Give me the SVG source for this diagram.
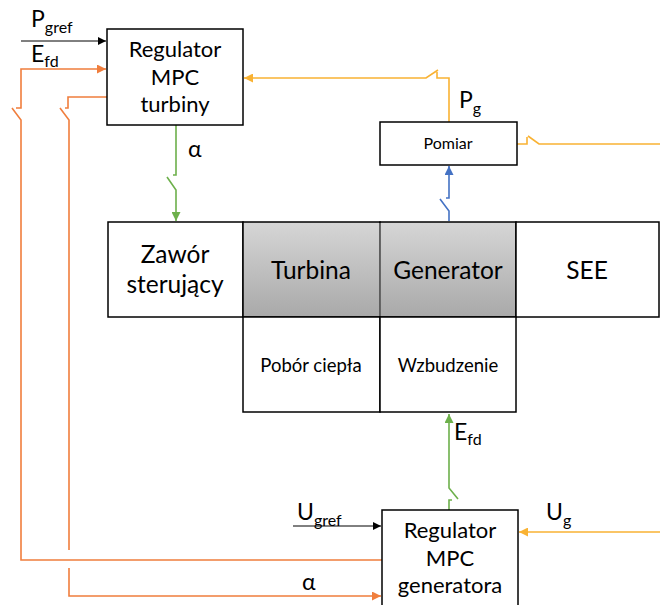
<svg xmlns="http://www.w3.org/2000/svg" width="660" height="605" viewBox="0 0 660 605">
<defs>
<style>
text{font-family:Lato,"Open Sans","Liberation Sans",sans-serif;fill:#000}
.box{fill:#fff;stroke:#000;stroke-width:1.5}
.big{font-size:22px;text-anchor:middle}
.row{font-size:24.5px;text-anchor:middle}
.mid{font-size:18.5px;text-anchor:middle}
.sm{font-size:16px;text-anchor:middle}
.lbl{font-size:23px}
.sub{font-size:16px}
.w{fill:none;stroke-width:1.6}
.or{stroke:#F07E3D}
.ye{stroke:#F9B233}
.gr{stroke:#6DB04B}
.bl{stroke:#4472C4}
.bk{stroke:#000;stroke-width:1}
</style>
<linearGradient id="gg" x1="0" y1="0" x2="0" y2="1">
<stop offset="0" stop-color="#d6d6d6"/>
<stop offset="1" stop-color="#a9a9a9"/>
</linearGradient>
<marker id="aK" viewBox="0 0 10 10" refX="10" refY="5" markerWidth="8" markerHeight="8" markerUnits="userSpaceOnUse" orient="auto"><path d="M0,0L10,5L0,10z" fill="#000"/></marker>
<marker id="aO" viewBox="0 0 10 10" refX="10" refY="5" markerWidth="9" markerHeight="9" markerUnits="userSpaceOnUse" orient="auto"><path d="M0,0L10,5L0,10z" fill="#F07E3D"/></marker>
<marker id="aY" viewBox="0 0 10 10" refX="10" refY="5" markerWidth="9" markerHeight="9" markerUnits="userSpaceOnUse" orient="auto"><path d="M0,0L10,5L0,10z" fill="#F9B233"/></marker>
<marker id="aG" viewBox="0 0 10 10" refX="10" refY="5" markerWidth="9" markerHeight="9" markerUnits="userSpaceOnUse" orient="auto"><path d="M0,0L10,5L0,10z" fill="#6DB04B"/></marker>
<marker id="aB" viewBox="0 0 10 10" refX="10" refY="5" markerWidth="9" markerHeight="9" markerUnits="userSpaceOnUse" orient="auto"><path d="M0,0L10,5L0,10z" fill="#4472C4"/></marker>
</defs>

<g id="connectors">
<path class="w bk" d="M21,41H106" marker-end="url(#aK)"/>
<path class="w or" d="M382,560H21V120L12,108"/>
<path class="w or" d="M16,108H21V69H106" marker-end="url(#aO)"/>
<path class="w or" d="M107,97H68V108H65"/>
<path class="w or" d="M60,108L69,120V550"/>
<path class="w or" d="M69,568V596H381" marker-end="url(#aO)"/>
<path class="w gr" d="M176,125V175H173"/>
<path class="w gr" d="M167,177L176,190V221" marker-end="url(#aG)"/>
<path class="w bl" d="M449,221V211L440,199"/>
<path class="w bl" d="M446,198H449V166" marker-end="url(#aB)"/>
<path class="w gr" d="M449,510V500H452"/>
<path class="w gr" d="M458,499L449,488V414" marker-end="url(#aG)"/>
<path class="w ye" d="M449,122V78H437V72"/>
<path class="w ye" d="M438,70L426,78H244" marker-end="url(#aY)"/>
<path class="w ye" d="M517,144H527V137"/>
<path class="w ye" d="M528,136L539,144H660"/>
<path class="w bk" d="M293,526H381" marker-end="url(#aK)"/>
<path class="w ye" d="M660,532H519" marker-end="url(#aY)"/>
</g>

<g id="reg-turbiny">
<rect class="box" x="107" y="29" width="136" height="96"/>
<text class="big" x="175" y="57">Regulator</text>
<text class="big" x="175" y="85">MPC</text>
<text class="big" x="175" y="112">turbiny</text>
</g>

<g id="pomiar">
<rect class="box" x="380" y="122" width="137" height="43"/>
<text class="sm" x="448" y="149">Pomiar</text>
</g>

<g id="zawor">
<rect class="box" x="108" y="222" width="135" height="95"/>
<text class="row" x="175" y="263">Zawór</text>
<text class="row" x="175" y="293">sterujący</text>
</g>

<g id="turbina">
<rect x="243" y="222" width="137" height="95" fill="url(#gg)" stroke="#000" stroke-width="1.5"/>
<text class="row" x="311" y="279">Turbina</text>
</g>

<g id="generator">
<rect x="380" y="222" width="136" height="95" fill="url(#gg)" stroke="#000" stroke-width="1.5"/>
<line x1="380" y1="223" x2="380" y2="316" stroke="#7a7a7a" stroke-width="1.5"/>
<text class="row" x="448" y="279">Generator</text>
</g>

<g id="see">
<rect class="box" x="516" y="222" width="143" height="95"/>
<text class="row" x="587" y="279">SEE</text>
</g>

<g id="pobor">
<rect class="box" x="243" y="317" width="137" height="95"/>
<text class="mid" x="311" y="372">Pobór ciepła</text>
</g>

<g id="wzbudzenie">
<rect class="box" x="380" y="317" width="136" height="95"/>
<text class="mid" x="448" y="372">Wzbudzenie</text>
</g>

<g id="reg-generatora">
<rect class="box" x="382" y="510" width="136" height="100"/>
<text class="big" x="450" y="538">Regulator</text>
<text class="big" x="450" y="566">MPC</text>
<text class="big" x="450" y="593">generatora</text>
</g>

<g id="labels">
<text class="lbl" x="31" y="27">P<tspan class="sub" dy="6">gref</tspan></text>
<text class="lbl" x="31" y="62">E<tspan class="sub" dy="5">fd</tspan></text>
<text class="lbl" x="188" y="157">α</text>
<text class="lbl" x="459" y="108">P<tspan class="sub" dy="6">g</tspan></text>
<text class="lbl" x="454" y="440">E<tspan class="sub" dy="5">fd</tspan></text>
<text class="lbl" x="297" y="520">U<tspan class="sub" dy="6">gref</tspan></text>
<text class="lbl" x="546" y="520">U<tspan class="sub" dy="6">g</tspan></text>
<text class="lbl" x="302" y="590">α</text>
</g>
</svg>
